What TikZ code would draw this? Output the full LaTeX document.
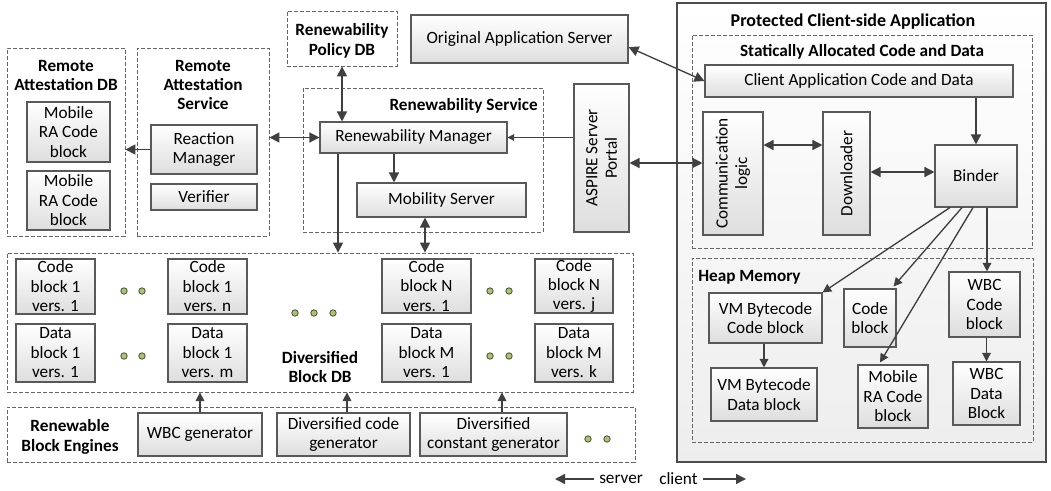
\documentclass[tikz,border=0pt]{standalone}
\usepackage{fontspec}
\setmainfont{Carlito}
\usetikzlibrary{arrows.meta,shadows,calc}
\newcommand{\fsz}{\fontsize{12.9pt}{14.6pt}\selectfont}
\definecolor{dotfill}{RGB}{172,192,122}
\definecolor{dotline}{RGB}{72,82,52}
\definecolor{edge}{RGB}{64,64,64}
\begin{document}
\begin{tikzpicture}[x=0.75pt,y=-0.75pt,
  every node/.style={font=\fsz},
  rect/.style n args={4}{minimum width={(#3-#1)*0.75pt}, minimum height={(#4-#2)*0.75pt},
    at={({(#1+#3)/2},{(#2+#4)/2})}},
  box/.style={draw=black!65, line width=0.8pt, top color=white, bottom color=black!13,
    inner sep=0pt, align=center,
    drop shadow={shadow xshift=1pt, shadow yshift=-1pt, fill=black, opacity=0.25}},
  cont/.style={draw=black!60, dash pattern=on 3pt off 1.5pt, line width=0.6pt, inner sep=0pt},
  outer/.style={draw=black!70, line width=0.9pt, top color=white, bottom color=black!7, inner sep=0pt},
  ttl/.style={font=\fsz\bfseries, align=center, inner sep=0pt},
  rot/.style={rotate=90, align=center, inner sep=0pt},
  arr/.style={draw=edge, line width=1pt, -{Triangle[length=7.5pt,width=7.5pt]}},
  arrtwo/.style={draw=edge, line width=1pt, {Triangle[length=7.5pt,width=7.5pt]}-{Triangle[length=7.5pt,width=7.5pt]}},
  sarr/.style={draw=edge, line width=1pt, -{Triangle[length=6.5pt,width=6.5pt]}},
  dot/.style={circle, minimum size=4.8pt, inner sep=0pt, fill=dotfill, draw=dotline, line width=0.6pt}]
\useasboundingbox (0,0) rectangle (1051,490);

% ---------- containers ----------
\node[cont, rect={7}{48}{125}{236}] (raDB) {};
\node[ttl] (raDBt) at (66,75.5) {Remote\\Attestation DB};
\node[cont, rect={137}{48}{269}{236}] (raS) {};
\node[ttl] (raSt) at (203,85) {Remote\\Attestation\\Service};
\node[cont, rect={287}{11}{397}{66}] (polDB) {};
\node[ttl] (polDBt) at (342,41) {Renewability\\Policy DB};
\node[cont, rect={303}{88}{543}{232}] (renS) {};
\node[ttl, anchor=east] (renSt) at (538,106) {Renewability Service};
\node[cont, rect={7}{253}{633}{392}] (divDB) {};
\node[ttl] (divDBt) at (320,367) {Diversified\\Block DB};
\node[cont, rect={7}{407}{635}{462}] (rbe) {};
\node[ttl] (rbet) at (70,437) {Renewable\\Block Engines};

\node[outer, rect={677}{3}{1046}{462}] (prot) {};
\node[ttl, font=\fontsize{13.5pt}{15pt}\selectfont\bfseries] (prott) at (853,22) {Protected Client-side Application};
\node[cont, rect={692}{35}{1032}{248}] (stat) {};
\node[ttl] (statt) at (862,52) {Statically Allocated Code and Data};
\node[cont, rect={692}{258}{1033}{442}] (heap) {};
\node[ttl, anchor=west] (heapt) at (698,277) {Heap Memory};

% ---------- boxes left ----------
\node[box, rect={27}{102}{110}{162}] (mra1) {Mobile\\RA Code\\block};
\node[box, rect={27}{171}{110}{230}] (mra2) {Mobile\\RA Code\\block};
\node[box, rect={151}{125}{257}{174}] (react) {Reaction\\Manager};
\node[box, rect={151}{184}{257}{210}] (verif) {Verifier};
\node[box, rect={411}{15}{628}{63}] (orig) {Original Application Server};
\node[box, rect={320}{122}{507}{153}] (renMgr) {Renewability Manager};
\node[box, rect={357}{183}{526}{217}] (mob) {Mobility Server};
\node[box, rect={574}{84}{629}{232}] (aspire) {};
\node[rot] (aspiret) at (aspire) {ASPIRE Server\\Portal};

% ---------- diversified blocks ----------
\node[box, rect={16}{259}{95}{314}] (c11) {Code\\block 1\\vers. 1};
\node[box, rect={168}{259}{247}{314}] (c1n) {Code\\block 1\\vers. n};
\node[box, rect={16}{324}{95}{382}] (d11) {Data\\block 1\\vers. 1};
\node[box, rect={168}{324}{247}{382}] (d1m) {Data\\block 1\\vers. m};
\node[box, rect={382}{259}{471}{313}] (cN1) {Code\\block N\\vers. 1};
\node[box, rect={535}{259}{613}{313}] (cNj) {Code\\block N\\vers. j};
\node[box, rect={382}{324}{471}{382}] (dM1) {Data\\block M\\vers. 1};
\node[box, rect={535}{324}{613}{382}] (dMk) {Data\\block M\\vers. k};

\node[dot] (p1) at (124,291) {};
\node[dot] (p2) at (142,291) {};
\node[dot] (p3) at (124,356) {};
\node[dot] (p4) at (142,356) {};
\node[dot] (p5) at (295,313) {};
\node[dot] (p6) at (314,313) {};
\node[dot] (p7) at (333,313) {};
\node[dot] (p8) at (490,291) {};
\node[dot] (p9) at (509,291) {};
\node[dot] (p10) at (490,356) {};
\node[dot] (p11) at (509,356) {};
\node[dot] (p12) at (588,439) {};
\node[dot] (p13) at (607,439) {};

% ---------- engines ----------
\node[box, rect={138}{413}{262}{456}] (wbcg) {WBC generator};
\node[box, rect={277}{413}{410}{456}] (dcg) {Diversified code\\generator};
\node[box, rect={420}{413}{567}{456}] (dcon) {Diversified\\constant generator};

% ---------- client side ----------
\node[box, rect={705}{65}{1013}{97}] (capp) {Client Application Code and Data};
\node[box, rect={703}{112}{763}{235}] (comm) {};
\node[rot] (commt) at (comm) {Communication\\logic};
\node[box, rect={823}{112}{870}{235}] (down) {};
\node[rot] (downt) at (down) {Downloader};
\node[box, rect={935}{145}{1017}{207}] (binder) {Binder};

\node[box, rect={709}{293}{822}{343}] (vmc) {VM Bytecode\\Code block};
\node[box, rect={711}{368}{817}{421}] (vmd) {VM Bytecode\\Data block};
\node[box, rect={844}{289}{896}{347}] (cb) {Code\\block};
\node[box, rect={858}{365}{928}{428}] (mra3) {Mobile\\RA Code\\block};
\node[box, rect={949}{272}{1020}{337}] (wbcc) {WBC\\Code\\block};
\node[box, rect={953}{362}{1020}{425}] (wbcd) {WBC\\Data\\Block};

% ---------- connectors ----------
\draw[arr] (react.west) -- (react.west -| raDB.east);
\draw[arrtwo] (renMgr.west) -- (renMgr.west -| raS.east);
\draw[arrtwo] (polDB.south) -- (polDB.south |- renMgr.north);
\draw[draw=edge, line width=1pt, -{Triangle[length=5pt,width=5pt]}] (aspire.west |- renMgr.east) -- (renMgr.east);
\draw[arr] (394,0 |- renMgr.south) -- (394,0 |- mob.north);
\draw[arr] (338,0 |- renMgr.south) -- (338,0 |- divDB.north);
\draw[arrtwo] (425,0 |- mob.south) -- (425,0 |- divDB.north);
\draw[arrtwo] ($(orig.east)!0.33!(orig.south east)$) -- (capp.west);
\draw[arrtwo] (aspire.east |- 0,163) -- (comm.west |- 0,163);
\draw[arrtwo] (comm.east |- 0,145) -- (down.west |- 0,145);
\draw[arrtwo] (down.east |- 0,172) -- (binder.west |- 0,172);
\draw[arr] (binder.north |- capp.south) -- (binder.north);

\draw[sarr] (950,0 |- binder.south) -- (vmc.north east);
\draw[sarr] (962,0 |- binder.south) -- ($(cb.north east)+(-3,-2)$);
\draw[sarr] (973,0 |- binder.south) -- ($(mra3.north)+(-13,-2)$);
\draw[sarr] (987,0 |- binder.south) -- (987,0 |- wbcc.north);
\draw[sarr] (vmd.north |- vmc.south) -- (vmd.north);
\draw[sarr] (wbcd.north |- wbcc.south) -- (wbcd.north);

\draw[sarr] (wbcg.north) -- (wbcg.north |- divDB.south);
\draw[sarr] (347,0 |- dcg.north) -- (347,0 |- divDB.south);
\draw[sarr] (502,0 |- dcon.north) -- (502,0 |- divDB.south);

% ---------- legend ----------
\node[inner sep=0pt, anchor=west] (srv) at (599,479) {server};
\node[inner sep=0pt, anchor=west] (cli) at (659,479) {client};
\coordinate (srvend) at (555,479);
\coordinate (cliend) at (746,479);
\draw[arr] ([xshift=-4]srv.west) -- (srvend);
\draw[arr] ([xshift=4]cli.east) -- (cliend);
\end{tikzpicture}
\end{document}
